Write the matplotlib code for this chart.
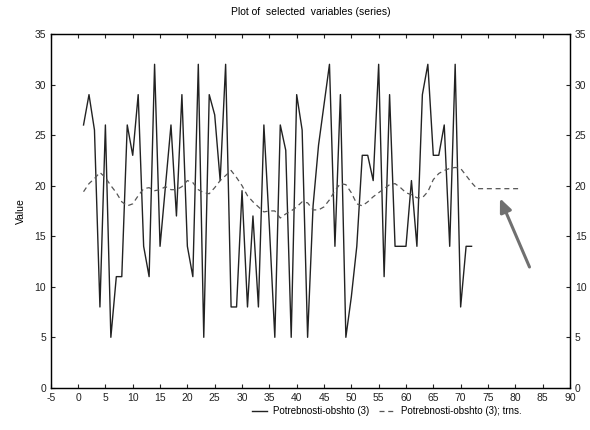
import numpy as np
import matplotlib
matplotlib.use('Agg')
import matplotlib.pyplot as plt

plt.rcParams['font.family'] = ['Liberation Sans', 'DejaVu Sans']
plt.rcParams['axes.unicode_minus'] = False

# Series values (case number 1..72)
case_x = np.arange(1, 73)
series_vals = [26, 29, 25.5, 8, 26, 5, 11, 11, 26, 23,
               29, 14, 11, 32, 14, 20, 26, 17, 29, 14,
               11, 32, 5, 29, 27, 20.5, 32, 8, 8, 19.5,
               8, 17, 8, 26, 16, 5, 26, 23.5, 5, 29,
               25.5, 5, 18, 24, 28, 32, 14, 29, 5, 9,
               14, 23, 23, 20.5, 32, 11, 29, 14, 14, 14,
               20.5, 14, 29, 32, 23, 23, 26, 14, 32, 8,
               14, 14]

# Trend (transformed) series, extends past the data
trend_x = np.arange(1, 82)
trend_vals = [19.4, 20.2, 20.7, 21.3, 20.8, 20.0, 19.3, 18.4, 18.0, 18.2,
              19.0, 19.7, 19.8, 19.5, 19.6, 19.9, 19.6, 19.6, 19.9, 20.5,
              20.3, 19.6, 19.3, 19.2, 19.8, 20.5, 21.0, 21.5, 20.8, 20.0,
              19.0, 18.4, 17.9, 17.4, 17.5, 17.5, 16.8, 17.2, 17.5, 17.9,
              18.4, 18.3, 17.6, 17.6, 17.9, 18.6, 19.5, 20.2, 20.1, 19.3,
              18.2, 18.0, 18.4, 18.9, 19.3, 19.7, 20.1, 20.2, 19.8, 19.3,
              19.1, 18.8, 18.8, 19.4, 20.6, 21.2, 21.5, 21.7, 21.8, 21.7,
              21.0, 20.3, 19.7, 19.7, 19.7, 19.7, 19.7, 19.7, 19.7, 19.7,
              19.7]

x_ticks = np.arange(-5, 95, 5)
y_ticks = np.arange(0, 40, 5)

fig = plt.figure(figsize=(5.9, 4.3), dpi=100)
ax = fig.add_axes([0.086, 0.098, 0.880, 0.823])

ax.plot(case_x, series_vals, color='#222222', linewidth=1.0,
        label='Potrebnosti-obshto (3)')
ax.plot(trend_x, trend_vals, color='#555555', linewidth=0.9,
        linestyle=(0, (4, 3)), label='Potrebnosti-obshto (3); trns.')

ax.set_xlim(-5, 90)
ax.set_ylim(0, 35)
ax.set_xticks(x_ticks)
ax.set_yticks(y_ticks)
ax.tick_params(direction='in', length=3, labelsize=7.5, top=True,
               colors='#222222')
for sp in ax.spines.values():
    sp.set_linewidth(1.0)
    sp.set_color('#222222')

ax2 = ax.twinx()
ax2.set_ylim(0, 35)
ax2.set_yticks(y_ticks)
ax2.tick_params(direction='in', length=3, labelsize=7.5, colors='#222222')

ax.set_ylabel('Value', fontsize=7.5, labelpad=6)
ax.set_title('Plot of  selected  variables (series)', fontsize=7.5, pad=14)

# grey arrow pointing at the forecast part
ax.annotate('', xy=(77, 19.0), xytext=(82.8, 11.7),
            arrowprops=dict(arrowstyle='-|>,head_width=0.35,head_length=0.8',
                            color='#707070', lw=2.2))

fig.legend(loc='lower center', ncol=2, frameon=False, fontsize=7,
           bbox_to_anchor=(0.655, 0.012), handlelength=1.6, handletextpad=0.6,
           columnspacing=1.0)

fig.savefig('out.png', dpi=100)
